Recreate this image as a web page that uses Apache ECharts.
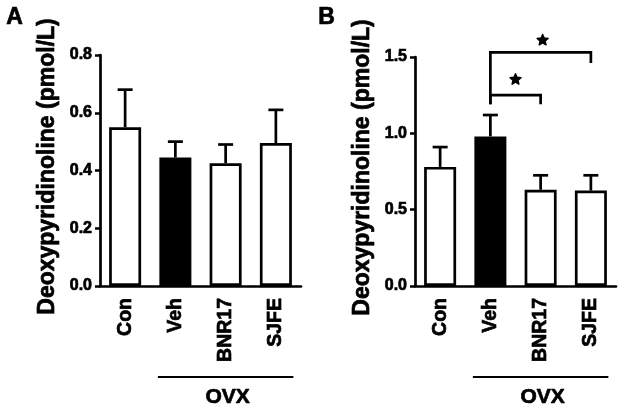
<!DOCTYPE html>
<html>
<head>
<meta charset="utf-8">
<script src="https://cdn.jsdelivr.net/npm/echarts@6/dist/echarts.min.js"></script>
<style>html,body{margin:0;padding:0;background:#fff}#c{width:630px;height:407px}</style>
</head>
<body>
<div id="c"></div>
<script>
// ---- data ----
const categories = ['Con', 'Veh', 'BNR17', 'SJFE'];
const meansA = [0.55, 0.445, 0.425, 0.495];
const errA   = [0.13, 0.055, 0.065, 0.115];
const meansB = [0.78, 0.98, 0.63, 0.625];
const errB   = [0.13, 0.14, 0.095, 0.10];
const yTicksA = { min: 0, max: 0.8, interval: 0.2 };
const yTicksB = { min: 0, max: 1.5, interval: 0.5 };
const filledIndex = 1; // Veh bar is black
// brackets: [fromIdx, toIdx, yTop, leftDrop, rightDrop, starY]
const bracketsB = [
  [1, 3, 1.53, 1.19, 1.46, 1.613],
  [1, 2, 1.25, 1.19, 1.19, 1.356]
];
const groupSpan = [[1, 3]]; // OVX group
const groupLabel = 'OVX';
const yName = 'Deoxypyridinoline (pmol/L)';

const FONT = 'Liberation Sans';
const barW = 32;
const HEAVY = { textBorderColor: '#000', textBorderWidth: 0.7 };

function barData(means) {
  return means.map((v, i) => ({
    value: v,
    itemStyle: { color: i === filledIndex ? '#000' : '#fff', borderColor: '#000', borderWidth: 2.7 }
  }));
}
function errData(means, errs) { return means.map((m, i) => [i, m, errs[i]]); }

function errRender(params, api) {
  const x = api.value(0), m = api.value(1), e = api.value(2);
  const p0 = api.coord([x, m]);
  const p1 = api.coord([x, m + e]);
  const st = { stroke: '#000', lineWidth: 2.7 };
  return { type: 'group', children: [
    { type: 'line', shape: { x1: p0[0], y1: p0[1], x2: p1[0], y2: p1[1] }, style: st },
    { type: 'line', shape: { x1: p1[0] - 7.5, y1: p1[1], x2: p1[0] + 7.5, y2: p1[1] }, style: st }
  ]};
}
function starPoints(cx, cy, ro, ri) {
  const pts = [];
  for (let k = 0; k < 10; k++) {
    const r = k % 2 === 0 ? ro : ri;
    const ang = -Math.PI / 2 + k * Math.PI / 5;
    pts.push([cx + r * Math.cos(ang), cy + r * Math.sin(ang)]);
  }
  return pts;
}
function bracketRender(params, api) {
  const a = api.value(0), b = api.value(1), top = api.value(2), ld = api.value(3), rd = api.value(4), sy = api.value(5);
  const pa = api.coord([a, top]), pb = api.coord([b, top]);
  const pad = api.coord([a, ld]), pbd = api.coord([b, rd]);
  const ps = api.coord([a, sy]);
  const sx = (pa[0] + pb[0]) / 2 + (b - a > 1 ? 2 : 0);
  return { type: 'group', children: [
    { type: 'polyline', shape: { points: [pad, pa, pb, pbd] }, style: { stroke: '#000', lineWidth: 2.7, fill: null } },
    { type: 'polygon', shape: { points: starPoints(sx, ps[1] + 0.5, 5.8, 2.7) }, style: { fill: '#000', stroke: '#000', lineWidth: 1.4, lineJoin: 'round' } }
  ]};
}
function groupRender(params, api) {
  const a = api.value(0), b = api.value(1);
  const pa = api.coord([a, 0]), pb = api.coord([b, 0]);
  const half = barW / 2 + 1.5;
  const y = pa[1] + 91;
  return { type: 'group', children: [
    { type: 'line', shape: { x1: pa[0] - half, y1: y, x2: pb[0] + half, y2: y }, style: { stroke: '#000', lineWidth: 2.2 } },
    { type: 'text', x: (pa[0] + pb[0]) / 2 + 2, y: y + 20, style: Object.assign({ text: groupLabel, font: 'bold 21px ' + FONT, fill: '#000', align: 'center', verticalAlign: 'middle', stroke: '#000', lineWidth: 0.7 }) }
  ]};
}

function xAxisDef(gi) {
  return {
    type: 'category', gridIndex: gi, data: categories, boundaryGap: true,
    axisLine: { lineStyle: { color: '#000', width: 2.7 } },
    axisTick: { alignWithLabel: true, length: 5, lineStyle: { color: '#000', width: 2.5 } },
    axisLabel: Object.assign({ rotate: 90, margin: 12, color: '#000', fontFamily: FONT, fontWeight: 'bold', fontSize: 19.5 }, HEAVY)
  };
}
function yAxisDef(gi, t) {
  return {
    type: 'value', gridIndex: gi, min: t.min, max: t.max, interval: t.interval,
    name: yName, nameLocation: 'middle', nameRotate: 90, nameGap: 41,
    nameTextStyle: Object.assign({ color: '#000', fontFamily: FONT, fontWeight: 'bold', fontSize: 23, padding: [0, 0, 0, 8] }, HEAVY),
    splitLine: { show: false },
    axisLine: { show: true, lineStyle: { color: '#000', width: 2.7 } },
    axisTick: { show: true, length: 5, lineStyle: { color: '#000', width: 2.5 } },
    axisLabel: Object.assign({ margin: 8, color: '#000', fontFamily: FONT, fontWeight: 'bold', fontSize: 16,
      formatter: v => v.toFixed(1) }, HEAVY)
  };
}

const chart = echarts.init(document.getElementById('c'), null, { renderer: 'canvas' });
chart.setOption({
  animation: false,
  backgroundColor: '#fff',
  graphic: [
    { type: 'text', left: 6, top: 6, style: { text: 'A', font: 'bold 23px ' + FONT, fill: '#000', stroke: '#000', lineWidth: 0.7 } },
    { type: 'text', left: 318, top: 6, style: { text: 'B', font: 'bold 23px ' + FONT, fill: '#000', stroke: '#000', lineWidth: 0.7 } }
  ],
  grid: [
    { left: 100, top: 55, width: 201, height: 231 },
    { left: 415, top: 57, width: 201, height: 229 }
  ],
  xAxis: [xAxisDef(0), xAxisDef(1)],
  yAxis: [yAxisDef(0, yTicksA), yAxisDef(1, yTicksB)],
  series: [
    { type: 'bar', xAxisIndex: 0, yAxisIndex: 0, barWidth: barW, data: barData(meansA), silent: true },
    { type: 'custom', xAxisIndex: 0, yAxisIndex: 0, renderItem: errRender, data: errData(meansA, errA), clip: false, silent: true, z: 1 },
    { type: 'custom', xAxisIndex: 0, yAxisIndex: 0, renderItem: groupRender, data: groupSpan, clip: false, silent: true },
    { type: 'bar', xAxisIndex: 1, yAxisIndex: 1, barWidth: barW, data: barData(meansB), silent: true },
    { type: 'custom', xAxisIndex: 1, yAxisIndex: 1, renderItem: errRender, data: errData(meansB, errB), clip: false, silent: true, z: 1 },
    { type: 'custom', xAxisIndex: 1, yAxisIndex: 1, renderItem: bracketRender, data: bracketsB, clip: false, silent: true },
    { type: 'custom', xAxisIndex: 1, yAxisIndex: 1, renderItem: groupRender, data: groupSpan, clip: false, silent: true }
  ]
});
</script>
</body>
</html>
